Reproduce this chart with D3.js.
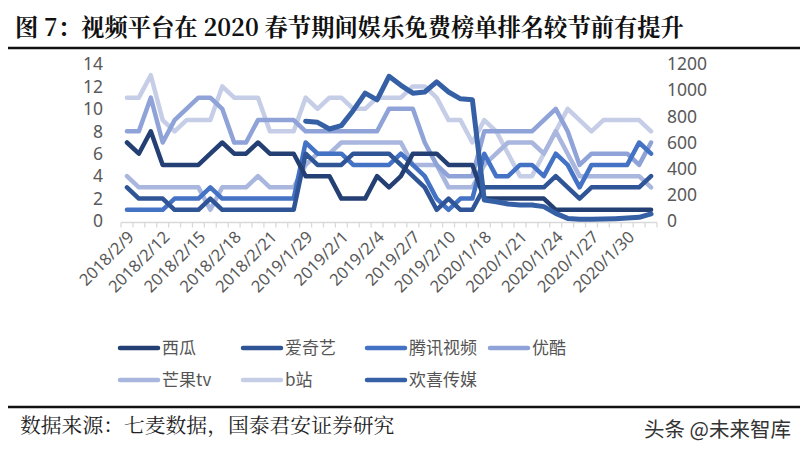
<!DOCTYPE html>
<html><head><meta charset="utf-8">
<script src="https://cdn.jsdelivr.net/npm/d3@7"></script>
<style>
body{margin:0;background:#fff;}
svg{display:block;}
</style></head>
<body><svg id="c" width="808" height="457"></svg>
<script>
const categories = [
 "2018/2/9","2018/2/10","2018/2/11","2018/2/12","2018/2/13","2018/2/14","2018/2/15","2018/2/16","2018/2/17","2018/2/18","2018/2/19","2018/2/20","2018/2/21","2018/2/22","2018/2/23",
 "2019/1/29","2019/1/30","2019/1/31","2019/2/1","2019/2/2","2019/2/3","2019/2/4","2019/2/5","2019/2/6","2019/2/7","2019/2/8","2019/2/9","2019/2/10","2019/2/11","2019/2/12",
 "2020/1/18","2020/1/19","2020/1/20","2020/1/21","2020/1/22","2020/1/23","2020/1/24","2020/1/25","2020/1/26","2020/1/27","2020/1/28","2020/1/29","2020/1/30","2020/1/31","2020/2/1"
];
const shownLabels = ["2018/2/9","2018/2/12","2018/2/15","2018/2/18","2018/2/21","2019/1/29","2019/2/1","2019/2/4","2019/2/7","2019/2/10","2020/1/18","2020/1/21","2020/1/24","2020/1/27","2020/1/30"];
const leftTicks = [0,2,4,6,8,10,12,14];
const rightTicks = [0,200,400,600,800,1000,1200];

const xigua   = [7,6,8,5,5,5,5,6,7,6,6,7,6,6,6, 4,4,4,2,2,2,4,3,4,6,6,6,5,5,5, 2,2,2,2,2,2,1,1,1,1,1,1,1,1,1];
const iqiyi   = [3,2,2,2,1,1,1,2,1,1,1,1,1,1,1, 6,5,5,5,6,6,6,6,5,4,3,1,2,1,1, 3,3,3,3,3,3,4,3,2,3,3,3,3,3,4];
const tencent = [1,1,1,1,2,2,2,3,2,2,2,2,2,2,2, 7,6,6,6,5,5,5,5,6,5,4,2,1,2,2, 6,4,4,5,5,4,6,5,3,5,5,5,5,7,6];
const youku   = [8,8,11,7,9,10,11,11,10,7,7,9,9,9,9, 8,8,8,8,8,8,8,10,10,10,7,5,4,4,4, 8,8,8,8,8,9,10,8,5,6,6,6,6,5,7];
const mango   = [4,3,3,3,3,3,3,1,3,3,3,4,3,3,3, 5,6,6,7,7,7,7,7,7,5,5,5,3,3,3, 5,6,7,7,7,6,8,6,4,4,4,4,4,4,3];
const bili    = [11,11,13,9,8,9,9,9,12,11,11,11,8,8,8, 11,10,11,11,10,10,11,11,11,12,12,11,9,9,7, 9,8,6,4,4,6,8,10,9,8,9,9,9,9,8];
const huanxi  = [null,null,null,null,null,null,null,null,null,null,null,null,null,null,null,
                 763,754,703,729,845,977,926,1106,1037,977,986,1063,986,934,926,
                 161,147,130,123,123,110,58,20,13,13,15,18,22,28,54];

const seriesNames = ["西瓜","爱奇艺","腾讯视频","优酷","芒果tv","b站","欢喜传媒"];
const seriesValues = [xigua, iqiyi, tencent, youku, mango, bili, huanxi];
const seriesColors = ["#243F73","#2F5597","#4472C4","#8FA3D8","#A9B6DE","#C6CEE7","#3560A6"];
const seriesAxis = ["L","L","L","L","L","L","R"];

const svg = d3.select("#c");
const x0 = 121, x1 = 657, yB = 221, yT = 64;
const x = d3.scaleBand().domain(categories).range([x0, x1]).paddingInner(0).paddingOuter(0);
const yL = d3.scaleLinear().domain([0,14]).range([yB, yT]);
const yR = d3.scaleLinear().domain([0,1200]).range([yB, yT]);
const cx = c => x(c) + x.bandwidth()/2;
const numFont = "'Noto Sans',sans-serif";

// title
svg.append("text").attr("x",15).attr("y",36)
  .style("font-family","'Noto Serif CJK SC','Noto Sans CJK SC',serif").style("font-weight","bold")
  .style("font-size","23.3px").attr("fill","#111")
  .text("图 7：视频平台在 2020 春节期间娱乐免费榜单排名较节前有提升");
svg.append("line").attr("x1",8).attr("x2",800).attr("y1",48).attr("y2",48).attr("stroke","#111").attr("stroke-width",2.5);

// axis line + ticks
const axisG = svg.append("g");
axisG.append("line").attr("x1",x0).attr("x2",x1).attr("y1",yB+1.5).attr("y2",yB+1.5).attr("stroke","#D9D9D9").attr("stroke-width",1.3);
const bounds = categories.map(c => x(c)).concat([x1]);
axisG.selectAll("line.t").data(bounds).enter().append("line")
  .attr("x1",d=>d).attr("x2",d=>d).attr("y1",yB+1.5).attr("y2",yB+6.5).attr("stroke","#D9D9D9").attr("stroke-width",1.3);

// left/right tick labels
svg.append("g").selectAll("text").data(leftTicks).enter().append("text")
  .attr("x",103).attr("y",d=>yL(d)).attr("dy","0.36em").attr("text-anchor","end")
  .style("font-family",numFont).style("font-size","17.5px").attr("fill","#595959").text(d=>d);
svg.append("g").selectAll("text").data(rightTicks).enter().append("text")
  .attr("x",667).attr("y",d=>yR(d)).attr("dy","0.36em").attr("text-anchor","start")
  .style("font-family",numFont).style("font-size","17.5px").attr("fill","#595959").text(d=>d);

// x labels
svg.append("g").selectAll("text").data(shownLabels).enter().append("text")
  .attr("transform",d=>`translate(${cx(d)+4},${yB+13}) rotate(-45)`)
  .attr("text-anchor","end").attr("dy","0.35em")
  .style("font-family",numFont).style("font-size","16.5px").attr("fill","#595959").text(d=>d);

// lines
const order = [5,4,3,2,1,0,6];
order.forEach(k => {
  const ys = seriesAxis[k]==="R" ? yR : yL;
  const line = d3.line().defined(d=>d[1]!==null).x(d=>cx(d[0])).y(d=>ys(d[1]));
  svg.append("path").datum(categories.map((c,i)=>[c, seriesValues[k][i]]))
    .attr("d",line).attr("fill","none").attr("stroke",seriesColors[k])
    .attr("stroke-width", k===6?5:4.5).attr("stroke-linejoin","round").attr("stroke-linecap","round");
});

// legend
const legPos = [[120,348],[243,348],[367,348],[490,348],[120,380],[243,380],[367,380]];
const leg = svg.append("g");
seriesNames.forEach((n,k)=>{
  const [lx,ly] = legPos[k];
  leg.append("line").attr("x1",lx).attr("x2",lx+38).attr("y1",ly).attr("y2",ly)
    .attr("stroke",seriesColors[k]).attr("stroke-width",4.5).attr("stroke-linecap","round");
  leg.append("text").attr("x",lx+42).attr("y",ly).attr("dy","0.36em")
    .style("font-family","'Noto Sans CJK SC',sans-serif").style("font-size","17px").attr("fill","#555").text(n);
});

// footer
svg.append("line").attr("x1",8).attr("x2",800).attr("y1",407).attr("y2",407).attr("stroke","#111").attr("stroke-width",2.5);
svg.append("text").attr("x",20).attr("y",433)
  .style("font-family","'Noto Serif CJK SC','Noto Sans CJK SC',serif").style("font-size","20.8px").attr("fill","#222")
  .text("数据来源：七麦数据，国泰君安证券研究");
svg.append("text").attr("x",791).attr("y",437).attr("text-anchor","end")
  .style("font-family","'Noto Sans CJK SC',sans-serif").style("font-size","20.5px").attr("fill","#333")
  .text("头条 @未来智库");
</script></body></html>
